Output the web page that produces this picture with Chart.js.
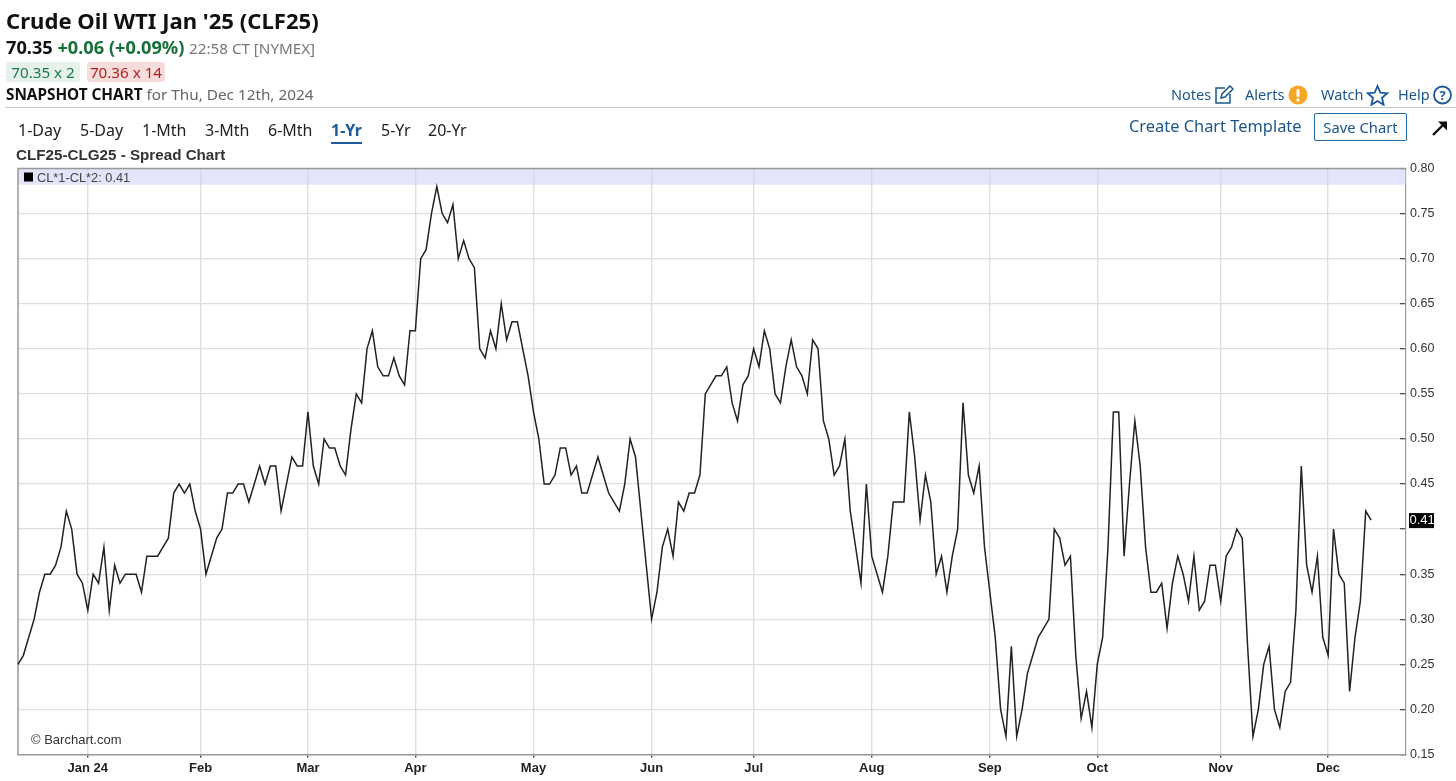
<!DOCTYPE html>
<html>
<head>
<meta charset="utf-8">
<title>CLF25-CLG25 Spread Chart</title>
<script src="https://cdn.jsdelivr.net/npm/chart.js@4/dist/chart.umd.min.js"></script>
<style>
  html, body { margin: 0; padding: 0; background: #fff; width: 1456px; height: 781px; overflow: hidden; }
  body { position: relative; font-family: "Noto Sans", sans-serif; color: #111; }
  canvas { position: absolute; left: 0; top: 0; }
  .t { position: absolute; white-space: nowrap; line-height: 1; }
  .blue { color: #1c5689; font-size: 14.5px; }
  .tab { font-size: 16px; top: 122px; color: #222; }
  svg { position: absolute; }
</style>
</head>
<body>
<canvas id="spreadChart" width="1456" height="781"></canvas>

<div class="t" style="left:6px;top:9px;font-size:22.1px;font-weight:700">Crude Oil WTI Jan '25 (CLF25)</div>
<div class="t" style="left:6px;top:38px;font-size:18.2px;font-weight:700">70.35 <span style="color:#17703a">+0.06 (+0.09%)</span> <span style="font-size:15.2px;font-weight:400;color:#777">22:58 CT [NYMEX]</span></div>
<div class="t" style="left:6px;top:62px;width:74px;height:20px;line-height:21px;text-align:center;font-size:15.2px;color:#1b7a4a;background:#e6f1ec;border-radius:3px">70.35 x 2</div>
<div class="t" style="left:87px;top:62px;width:78px;height:20px;line-height:21px;text-align:center;font-size:15.2px;color:#b3201f;background:#f7dcdc;border-radius:3px">70.36 x 14</div>
<div class="t" style="left:6px;top:87px;font-size:15.3px;font-weight:700">SNAPSHOT CHART <span style="font-weight:400;color:#666">for Thu, Dec 12th, 2024</span></div>
<div style="position:absolute;left:5px;right:0;top:107px;height:1px;background:#c8c8c8"></div>

<div class="t tab" style="left:18px">1-Day</div>
<div class="t tab" style="left:80px">5-Day</div>
<div class="t tab" style="left:142px">1-Mth</div>
<div class="t tab" style="left:205px">3-Mth</div>
<div class="t tab" style="left:268px">6-Mth</div>
<div class="t tab" style="left:331px;color:#1c5a9c;font-weight:700;padding-bottom:4px;border-bottom:2px solid #1c5a9c">1-Yr</div>
<div class="t tab" style="left:381px">5-Yr</div>
<div class="t tab" style="left:428px">20-Yr</div>
<div class="t" style="left:16px;top:147px;font-family:'Liberation Sans';font-size:15.2px;font-weight:700;color:#333">CLF25-CLG25 - Spread Chart</div>

<div class="t blue" style="left:1171px;top:87px">Notes</div>
<svg style="left:1214px;top:85px" width="20" height="19" viewBox="0 0 20 19" fill="none" stroke="#1c5689" stroke-width="1.5"><path d="M11 3H2v15h14V9"/><path d="M7 13l1-4 8-8 3 3-8 8z"/></svg>
<div class="t blue" style="left:1245px;top:87px">Alerts</div>
<svg style="left:1288px;top:85px" width="20" height="20" viewBox="0 0 20 20"><circle cx="10" cy="10" r="9.5" fill="#f5a623"/><rect x="8.5" y="4" width="3" height="8" rx="1" fill="#fff"/><circle cx="10" cy="15" r="1.7" fill="#fff"/></svg>
<div class="t blue" style="left:1321px;top:87px">Watch</div>
<svg style="left:1366px;top:84px" width="23" height="22" viewBox="0 0 23 22" fill="none" stroke="#1c5a9c" stroke-width="1.8"><path d="M11.5 2l2.8 6.6 7 .6-5.3 4.6 1.6 7-6.1-3.7-6.1 3.7 1.6-7L1.700 9.200l7-.6z"/></svg>
<div class="t blue" style="left:1398px;top:87px">Help</div>
<svg style="left:1433px;top:85px" width="19" height="20" viewBox="0 0 19 20"><circle cx="9.500" cy="10" r="8.500" fill="none" stroke="#1c5a9c" stroke-width="1.800"/><text x="9.500" y="14.500" text-anchor="middle" font-size="13" font-weight="700" font-family="Noto Sans" fill="#1c5a9c">?</text></svg>

<div class="t" style="left:1129px;top:118px;font-size:16.4px;color:#1c5689">Create Chart Template</div>
<div class="t" style="left:1314px;top:113px;width:91px;height:26px;line-height:27px;text-align:center;font-size:14.8px;color:#1c5689;border:1px solid #1f6aa5;border-radius:2px">Save Chart</div>
<svg style="left:1432px;top:120px" width="16" height="16" viewBox="0 0 16 16"><path d="M1 15L12 4" stroke="#111" stroke-width="2.400"/><path d="M6 1.500h9v9z" fill="#111"/></svg>

<div class="t" style="left:31px;top:733px;font-family:'Liberation Sans';font-size:13px;color:#333">© Barchart.com</div>

<script>
// daily settle of the spread, one trading day per entry
const spreadValues = [
  .25, .26, .28, .30, .33, .35, .35, .36, .38, .42, .40, .35, .34,
  .31, .35, .34, .38, .31, .36, .34, .35, .35, .35, .33, .37, .37, .37, .38, .39, .44, .45, .44, .45, .42,
  .40, .35, .37, .39, .40, .44, .44, .45, .45, .43, .45, .47, .45, .47, .47, .42, .45, .48, .47, .47,
  .53, .47, .45, .50, .49, .49, .47, .46, .51, .55, .54, .60, .62, .58, .57, .57, .59, .57, .56, .62,
  .62, .70, .71, .75, .78, .75, .74, .76, .70, .72, .70, .69, .60, .59, .62, .60, .65, .61, .63, .63, .60, .57,
  .53, .50, .45, .45, .46, .49, .49, .46, .47, .44, .44, .46, .48, .46, .44, .43, .42, .45, .50, .48, .42, .36,
  .30, .33, .38, .40, .37, .43, .42, .44, .44, .46, .55, .56, .57, .57, .58, .54, .52, .56, .57,
  .60, .58, .62, .60, .55, .54, .58, .61, .58, .57, .55, .61, .60, .52, .50, .46, .47, .50, .42, .38, .34, .45,
  .37, .35, .33, .37, .43, .43, .43, .53, .48, .41, .46, .43, .35, .37, .33, .37, .40, .54, .46, .44, .47, .38,
  .33, .28, .20, .17, .27, .17, .20, .24, .26, .28, .29, .30, .40, .39, .36, .37, .26, .19, .22, .18,
  .25, .28, .38, .53, .53, .37, .45, .52, .47, .38, .33, .33, .34, .29, .34, .37, .35, .32, .37, .31, .32, .36, .36,
  .32, .37, .38, .40, .39, .27, .17, .20, .25, .27, .20, .18, .22, .23, .31, .47, .36, .33, .37, .28,
  .26, .40, .35, .34, .22, .28, .32, .42, .41
];

const monthTicks = [13, 34, 54, 74, 96, 118, 137, 159, 181, 201, 224, 244];
const monthLabels = ['Jan 24', 'Feb', 'Mar', 'Apr', 'May', 'Jun', 'Jul', 'Aug', 'Sep', 'Oct', 'Nov', 'Dec'];

const legendText = 'CL*1-CL*2: 0.41';
const lastLabel = '0.41';

// lavender legend strip, plot frame and the black last-price tag
const spreadDecor = {
  id: 'spreadDecor',
  beforeDatasetsDraw(chart) {
    const { ctx, chartArea: a, scales: { y } } = chart;
    ctx.save();
    ctx.fillStyle = 'rgba(205, 205, 248, 0.55)';
    ctx.fillRect(a.left, a.top, a.width, y.getPixelForValue(0.782) - a.top);
    ctx.strokeStyle = '#999';
    ctx.lineWidth = 1.5;
    ctx.beginPath();
    ctx.moveTo(a.right, a.top);
    ctx.lineTo(a.left, a.top);
    ctx.lineTo(a.left, a.bottom);
    ctx.stroke();
    ctx.fillStyle = '#000';
    ctx.fillRect(a.left + 6, a.top + 4, 9, 9);
    ctx.fillStyle = '#444';
    ctx.font = '12.8px "Liberation Sans"';
    ctx.textBaseline = 'middle';
    ctx.fillText(legendText, a.left + 19, a.top + 9.5);
    ctx.restore();
  },
  afterDraw(chart) {
    const { ctx, chartArea: a, scales: { y } } = chart;
    const py = y.getPixelForValue(spreadValues[spreadValues.length - 1]);
    ctx.save();
    ctx.fillStyle = '#000';
    ctx.fillRect(a.right + 3, py - 7, 25, 15);
    ctx.fillStyle = '#fff';
    ctx.font = '13px "Liberation Sans"';
    ctx.textBaseline = 'middle';
    ctx.fillText(lastLabel, a.right + 3.5, py + 0.5);
    ctx.restore();
  }
};

let spreadChart = new Chart(document.getElementById('spreadChart'), {
  type: 'line',
  data: {
    datasets: [{
      label: 'CL*1-CL*2',
      data: spreadValues.map((v, i) => ({ x: i, y: v })),
      borderColor: '#222',
      borderWidth: 1.5,
      pointRadius: 0,
      tension: 0,
      clip: false
    }]
  },
  options: {
    responsive: false,
    animation: false,
    parsing: false,
    layout: { padding: { left: 18, top: 168.5, right: 0, bottom: 0 } },
    plugins: { legend: { display: false }, tooltip: { enabled: false } },
    scales: {
      x: {
        type: 'linear',
        min: 0,
        max: 258.5,
        afterBuildTicks: scale => { scale.ticks = monthTicks.map(v => ({ value: v })); },
        afterFit: scale => { scale.height = 26.5; },
        grid: { color: '#dedede', lineWidth: 1.4, tickColor: '#333', tickLength: 3 },
        border: { color: '#999', width: 1.5 },
        ticks: {
          autoSkip: false,
          maxRotation: 0,
          padding: 3,
          color: '#222',
          font: { family: 'Liberation Sans', size: 13, weight: 'bold' },
          callback: v => monthLabels[monthTicks.indexOf(v)]
        }
      },
      y: {
        position: 'right',
        min: 0.15,
        max: 0.80,
        afterFit: scale => { scale.width = 50; },
        grid: { color: '#dedede', lineWidth: 1.3, tickColor: '#555', tickLength: -6 },
        border: { color: '#999', width: 1.2 },
        ticks: {
          stepSize: 0.05,
          padding: 10,
          color: '#333',
          font: { family: 'Liberation Sans', size: 12.5 },
          callback: v => (Math.abs(v - 0.4) < 0.001 ? '' : v.toFixed(2))
        }
      }
    }
  },
  plugins: [spreadDecor]
});
</script>
</body>
</html>
